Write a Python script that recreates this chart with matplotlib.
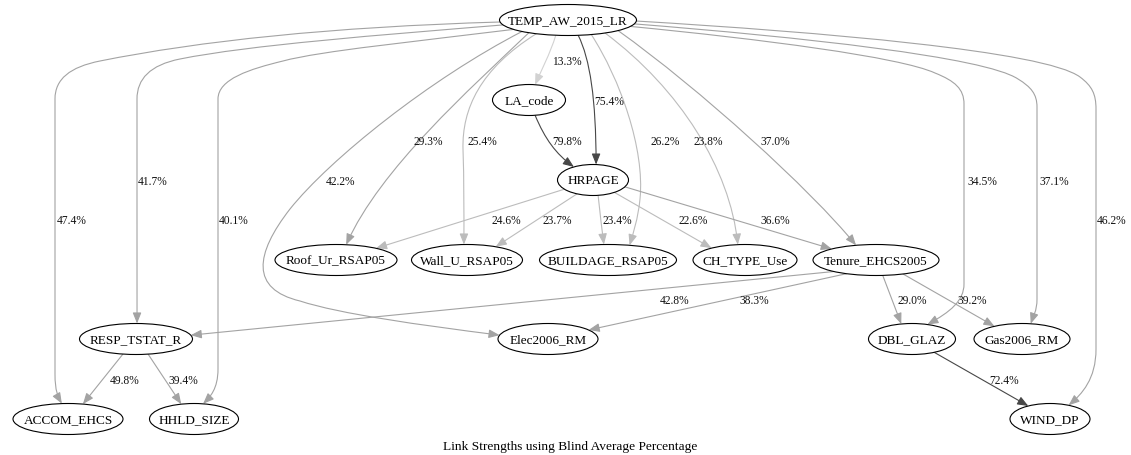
import matplotlib.pyplot as plt
import numpy as np
from matplotlib.patches import Ellipse, FancyArrowPatch
from matplotlib.path import Path

# nodes of the network
nodes = ['TEMP_AW_2015_LR', 'LA_code', 'HRPAGE', 'Roof_Ur_RSAP05', 'Wall_U_RSAP05',
         'BUILDAGE_RSAP05', 'CH_TYPE_Use', 'Tenure_EHCS2005', 'RESP_TSTAT_R',
         'Elec2006_RM', 'DBL_GLAZ', 'Gas2006_RM', 'ACCOM_EHCS', 'HHLD_SIZE', 'WIND_DP']

# edges: source, target, link strength (%)
edge_src = ['TEMP_AW_2015_LR'] * 14 + ['LA_code'] + ['HRPAGE'] * 5 + ['Tenure_EHCS2005'] * 4 \
    + ['DBL_GLAZ'] + ['RESP_TSTAT_R'] * 2
edge_dst = ['ACCOM_EHCS', 'RESP_TSTAT_R', 'HHLD_SIZE', 'Elec2006_RM', 'Roof_Ur_RSAP05',
            'Wall_U_RSAP05', 'LA_code', 'HRPAGE', 'BUILDAGE_RSAP05', 'CH_TYPE_Use',
            'Tenure_EHCS2005', 'DBL_GLAZ', 'Gas2006_RM', 'WIND_DP',
            'HRPAGE',
            'Roof_Ur_RSAP05', 'Wall_U_RSAP05', 'BUILDAGE_RSAP05', 'CH_TYPE_Use', 'Tenure_EHCS2005',
            'RESP_TSTAT_R', 'Elec2006_RM', 'DBL_GLAZ', 'Gas2006_RM',
            'WIND_DP',
            'ACCOM_EHCS', 'HHLD_SIZE']
edge_pct = [47.4, 41.7, 40.1, 42.2, 29.3, 25.4, 13.3, 75.4, 26.2, 23.8, 37.0, 34.5, 37.1, 46.2,
            79.8,
            24.6, 23.7, 23.4, 22.6, 36.6,
            42.8, 38.3, 29.0, 39.2,
            72.4,
            49.8, 39.4]

title = 'Link Strengths using Blind Average Percentage'

# ---- layout (pixel coordinates, y downwards) ----
node_pos = {
    'TEMP_AW_2015_LR': (568, 21, 137), 'LA_code': (529, 101, 73), 'HRPAGE': (593, 181, 71),
    'Roof_Ur_RSAP05': (336, 261, 122), 'Wall_U_RSAP05': (467, 261, 111),
    'BUILDAGE_RSAP05': (608, 261, 137), 'CH_TYPE_Use': (745, 261, 104),
    'Tenure_EHCS2005': (876, 261, 126), 'RESP_TSTAT_R': (136, 340, 113),
    'Elec2006_RM': (548, 340, 100), 'DBL_GLAZ': (912, 340, 87), 'Gas2006_RM': (1022, 340, 96),
    'ACCOM_EHCS': (68, 420, 110), 'HHLD_SIZE': (194, 420, 89), 'WIND_DP': (1050, 420, 80),
}
node_h = 31

T = 'TEMP_AW_2015_LR'
routes = {
    (T, 'ACCOM_EHCS'): [(500, 23), (330, 28), (200, 42), (100, 62), (70, 68), (55, 80), (55, 100),
                        (55, 200), (55, 300), (55, 375), (55, 392), (58, 398), (62, 405)],
    (T, 'RESP_TSTAT_R'): [(502, 26), (380, 36), (250, 46), (180, 60), (150, 66), (137, 80), (137, 100),
                          (137, 170), (137, 250), (137, 325)],
    (T, 'HHLD_SIZE'): [(510, 31), (420, 42), (320, 52), (283, 62), (250, 70), (218, 80), (218, 100),
                       (218, 200), (218, 300), (218, 370), (218, 390), (210, 398), (203, 405)],
    (T, 'Elec2006_RM'): [(520, 33), (430, 80), (330, 160), (290, 210), (255, 255), (250, 290), (300, 302),
                         (340, 315), (420, 326), (498, 336)],
    (T, 'Roof_Ur_RSAP05'): [(528, 34), (470, 90), (380, 170), (346, 246)],
    (T, 'Wall_U_RSAP05'): [(538, 34), (480, 70), (462, 110), (463, 150), (464, 180), (464, 215), (464, 246)],
    (T, 'LA_code'): [(556, 36), (550, 55), (541, 72), (535, 86)],
    (T, 'HRPAGE'): [(578, 36), (590, 60), (596, 100), (596, 166)],
    ('LA_code', 'HRPAGE'): [(535, 116), (545, 140), (556, 155), (574, 168)],
    (T, 'BUILDAGE_RSAP05'): [(592, 36), (620, 80), (645, 150), (640, 200), (638, 220), (633, 235), (630, 246)],
    (T, 'CH_TYPE_Use'): [(605, 34), (680, 90), (730, 170), (738, 246)],
    (T, 'Tenure_EHCS2005'): [(620, 32), (700, 90), (810, 190), (857, 247)],
    (T, 'DBL_GLAZ'): [(636, 28), (760, 40), (900, 58), (935, 74), (955, 82), (964, 90), (964, 105),
                      (964, 170), (964, 240), (964, 285), (964, 302), (950, 313), (930, 323)],
    (T, 'Gas2006_RM'): [(636, 25), (800, 38), (985, 58), (1018, 80), (1031, 88), (1037, 95), (1037, 108),
                        (1037, 180), (1037, 250), (1037, 300), (1037, 312), (1033, 318), (1030, 326)],
    (T, 'WIND_DP'): [(634, 22), (820, 33), (1045, 52), (1080, 78), (1092, 87), (1096, 95), (1096, 110),
                     (1096, 190), (1096, 270), (1096, 350), (1096, 380), (1082, 395), (1069, 406)],
    ('HRPAGE', 'Roof_Ur_RSAP05'): [(565, 190), (377, 249)],
    ('HRPAGE', 'Wall_U_RSAP05'): [(578, 194), (493, 249)],
    ('HRPAGE', 'BUILDAGE_RSAP05'): [(598, 196), (600, 215), (602, 230), (604, 246)],
    ('HRPAGE', 'CH_TYPE_Use'): [(612, 192), (714, 250)],
    ('HRPAGE', 'Tenure_EHCS2005'): [(621, 187), (832, 250)],
    ('Tenure_EHCS2005', 'RESP_TSTAT_R'): [(832, 273), (193, 336)],
    ('Tenure_EHCS2005', 'Elec2006_RM'): [(848, 274), (593, 330)],
    ('Tenure_EHCS2005', 'DBL_GLAZ'): [(883, 277), (902, 326)],
    ('Tenure_EHCS2005', 'Gas2006_RM'): [(905, 276), (996, 328)],
    ('DBL_GLAZ', 'WIND_DP'): [(937, 355), (1030, 408)],
    ('RESP_TSTAT_R', 'ACCOM_EHCS'): [(123, 355), (82, 406)],
    ('RESP_TSTAT_R', 'HHLD_SIZE'): [(148, 355), (182, 406)],
}

label_pos = {
    (T, 'ACCOM_EHCS'): (72, 221), (T, 'RESP_TSTAT_R'): (153, 182), (T, 'HHLD_SIZE'): (234, 221),
    (T, 'Elec2006_RM'): (340, 182), (T, 'Roof_Ur_RSAP05'): (428, 142), (T, 'Wall_U_RSAP05'): (482, 142),
    (T, 'LA_code'): (567, 62), (T, 'HRPAGE'): (609, 102), ('LA_code', 'HRPAGE'): (567, 142),
    (T, 'BUILDAGE_RSAP05'): (665, 142), (T, 'CH_TYPE_Use'): (708, 142), (T, 'Tenure_EHCS2005'): (775, 142),
    (T, 'DBL_GLAZ'): (982, 182), (T, 'Gas2006_RM'): (1054, 182), (T, 'WIND_DP'): (1112, 221),
    ('HRPAGE', 'Roof_Ur_RSAP05'): (506, 221), ('HRPAGE', 'Wall_U_RSAP05'): (557, 221),
    ('HRPAGE', 'BUILDAGE_RSAP05'): (617, 221), ('HRPAGE', 'CH_TYPE_Use'): (693, 221),
    ('HRPAGE', 'Tenure_EHCS2005'): (775, 221),
    ('Tenure_EHCS2005', 'RESP_TSTAT_R'): (675, 301), ('Tenure_EHCS2005', 'Elec2006_RM'): (754, 301),
    ('Tenure_EHCS2005', 'DBL_GLAZ'): (912, 301), ('Tenure_EHCS2005', 'Gas2006_RM'): (972, 301),
    ('DBL_GLAZ', 'WIND_DP'): (1004, 381),
    ('RESP_TSTAT_R', 'ACCOM_EHCS'): (125, 381), ('RESP_TSTAT_R', 'HHLD_SIZE'): (183, 381),
}


def edge_color(p):
    # darker grey for stronger links
    if p < 20:
        return '#d2d2d2'
    if p < 28:
        return '#bcbcbc'
    if p < 60:
        return '#a3a3a3'
    return '#474747'


def snap(name, pt):
    # move a point radially onto the node's ellipse outline
    cx, cy, w = node_pos[name]
    dx, dy = pt[0] - cx, pt[1] - cy
    r = np.hypot(dx / (w / 2), dy / (node_h / 2))
    return (cx + dx / r, cy + dy / r)


W, H = 1131, 456
fig = plt.figure(figsize=(W / 100, H / 100), dpi=100)
ax = fig.add_axes([0, 0, 1, 1])
ax.set_xlim(0, W)
ax.set_ylim(H, 0)
ax.axis('off')

serif = ['Liberation Serif', 'DejaVu Serif']

for s, d, p in zip(edge_src, edge_dst, edge_pct):
    pts = list(routes[(s, d)])
    pts[0] = snap(s, pts[0])
    pts[-1] = snap(d, pts[-1])
    if len(pts) == 2:
        codes = [Path.MOVETO, Path.LINETO]
    else:
        codes = [Path.MOVETO] + [Path.CURVE4] * (len(pts) - 1)
    col = edge_color(p)
    arr = FancyArrowPatch(path=Path(pts, codes), arrowstyle='-|>,head_length=0.65,head_width=0.26',
                          mutation_scale=10, color=col, lw=0.8, zorder=1)
    ax.add_patch(arr)
    lx, ly = label_pos[(s, d)]
    ax.text(lx, ly, f'{p:.1f}%', ha='center', va='center', fontsize=8.3,
            family=serif, color='#111111', zorder=3)

for n in nodes:
    cx, cy, w = node_pos[n]
    ax.add_patch(Ellipse((cx, cy), w, node_h, facecolor='white', edgecolor='black', lw=0.8, zorder=2))
    ax.text(cx, cy, n, ha='center', va='center', fontsize=9.5, family=serif, zorder=3)

ax.text(570, 447, title, ha='center', va='center', fontsize=9.6, family=serif)

fig.savefig('out.png', dpi=100)
